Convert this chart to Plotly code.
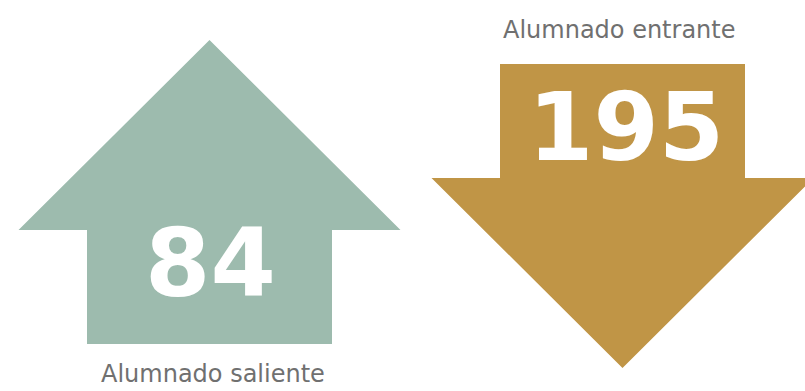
import plotly.graph_objects as go

# ---- data ----
categories = ["Alumnado saliente", "Alumnado entrante"]
values = [84, 195]
directions = ["up", "down"]
colors = ["#9DBBAE", "#C09546"]

# ---- geometry (pixels, axis = canvas) ----
W, H = 805, 391
centers_x = [209.5, 622.5]
shaft_half = 122.5
head_half = 191
head_h = 190
shaft_h = 114
arrow_top = [40, 64]      # top of each arrow

fig = go.Figure()

for i, (cat, val, d, col) in enumerate(zip(categories, values, directions, colors)):
    cx = centers_x[i]
    top = arrow_top[i]
    if d == "up":
        base = top + head_h
        xs = [cx, cx + head_half, cx + shaft_half, cx + shaft_half,
              cx - shaft_half, cx - shaft_half, cx - head_half, cx]
        ys = [top, base, base, base + shaft_h, base + shaft_h, base, base, top]
        num_y = base + 33
        lab_y = base + shaft_h + 30
    else:
        base = top + shaft_h
        xs = [cx - shaft_half, cx + shaft_half, cx + shaft_half, cx + head_half,
              cx, cx - head_half, cx - shaft_half, cx - shaft_half]
        ys = [top, top, base, base, base + head_h, base, base, top]
        num_y = top + 63
        lab_y = top - 34
    fig.add_trace(go.Scatter(x=xs, y=ys, mode="lines", fill="toself",
                             fillcolor=col, line=dict(width=0, color=col),
                             hoverinfo="skip", showlegend=False))
    fig.add_annotation(x=cx + (1 if d == "up" else 3), y=num_y, text=f"<b>{val}</b>", showarrow=False,
                       font=dict(family="DejaVu Sans", size=94, color="white"),
                       xanchor="center", yanchor="middle")
    fig.add_annotation(x=cx + (3 if d == "up" else -3), y=lab_y, text=cat, showarrow=False,
                       font=dict(family="DejaVu Sans", size=24, color="#707070"),
                       xanchor="center", yanchor="middle")

fig.update_layout(
    width=W, height=H, margin=dict(l=0, r=0, t=0, b=0),
    paper_bgcolor="white", plot_bgcolor="white",
    xaxis=dict(range=[0, W], visible=False, fixedrange=True),
    yaxis=dict(range=[H, 0], visible=False, fixedrange=True),
)
fig.write_html("out.html", config={"displayModeBar": False},
               post_script="document.body.style.margin='0';document.body.style.overflow='hidden';")
